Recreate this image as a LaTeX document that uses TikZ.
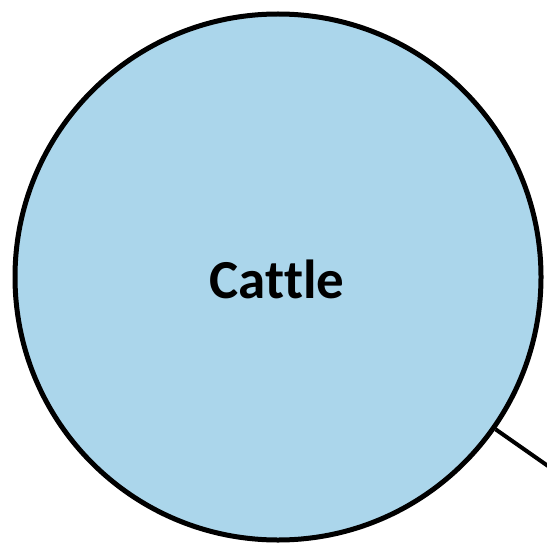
\documentclass[tikz,border=0pt]{standalone}
\usepackage{fontspec}
\setmainfont{Carlito}[Ligatures={NoCommon}]
\definecolor{cattleblue}{RGB}{171,214,235}
\begin{document}
\begin{tikzpicture}[x=1pt,y=1pt,
  bubble/.style={circle,draw=black,line width=5pt,fill=cattleblue,minimum size=526pt,inner sep=0pt},
  link/.style={draw=black,line width=4pt}]
\useasboundingbox (0,0) rectangle (546,-548);
\node[bubble] (cattle) at (278,-277) {};
\node[font=\bfseries\fontsize{55}{60}\selectfont] (label) at (277,-279) {Cattle};
\coordinate (out) at (548,-466);
\draw[link] (cattle) -- (out);
\end{tikzpicture}
\end{document}
